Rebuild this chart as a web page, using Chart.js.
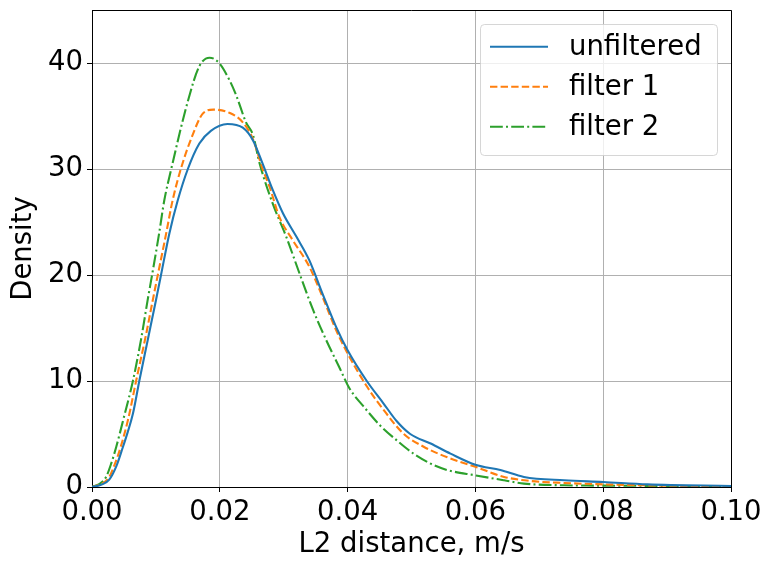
<!DOCTYPE html>
<html><head><meta charset="utf-8">
<script src="https://cdn.jsdelivr.net/npm/chart.js@4/dist/chart.umd.min.js"></script>
<style>html,body{margin:0;padding:0;background:#fff}#wrap{width:764px;height:561px}</style>
</head><body><div id="wrap"><canvas id="c" width="764" height="561"></canvas></div>
<script>
const seriesNames = ['unfiltered', 'filter 1', 'filter 2'];
const seriesColors = ['#1f77b4', '#ff7f0e', '#2ca02c'];

const unfilteredX = [0, 0.0015, 0.0027, 0.0038, 0.0048, 0.0056, 0.0064, 0.0074, 0.0087, 0.0100, 0.0108, 0.0121, 0.0134, 0.0150, 0.0168, 0.0186, 0.0212, 0.0236, 0.0252, 0.0267, 0.0283, 0.0299, 0.0320, 0.0340, 0.0361, 0.0382, 0.0400, 0.0430, 0.0456, 0.0477, 0.0498, 0.0530, 0.0561, 0.0600, 0.0639, 0.0676, 0.0739, 0.0800, 0.0869, 0.1000];
const unfilteredY = [0, 0.22, 0.7, 1.95, 3.7, 5.2, 6.9, 10.0, 13.8, 17.6, 20.0, 23.9, 27.0, 30.0, 32.4, 33.6, 34.25, 33.9, 32.7, 30.5, 28.0, 25.8, 23.6, 21.4, 18.2, 15.1, 12.9, 10.0, 7.9, 6.2, 5.0, 4.1, 3.15, 2.1, 1.6, 0.95, 0.63, 0.47, 0.25, 0.1];

const filter1X = [0, 0.0015, 0.0027, 0.0036, 0.0045, 0.0057, 0.0069, 0.0085, 0.0095, 0.0103, 0.0116, 0.0126, 0.0139, 0.0158, 0.0173, 0.0190, 0.0215, 0.0236, 0.0252, 0.0267, 0.0278, 0.0293, 0.0314, 0.0340, 0.0361, 0.0382, 0.0400, 0.0430, 0.0456, 0.0488, 0.0519, 0.0556, 0.0600, 0.0645, 0.0686, 0.0739, 0.0800, 0.0895, 0.1000];
const filter1Y = [0, 0.3, 0.95, 2.2, 3.8, 6.5, 10.0, 14.5, 17.6, 20.0, 23.9, 27.0, 30.0, 33.3, 35.2, 35.6, 35.3, 34.4, 32.8, 30.0, 28.3, 25.5, 23.3, 20.8, 17.9, 14.8, 12.6, 9.5, 7.3, 5.0, 3.8, 2.8, 1.9, 0.95, 0.57, 0.38, 0.25, 0.13, 0.06];

const filter2X = [0, 0.0012, 0.0022, 0.0030, 0.0038, 0.0050, 0.0064, 0.0077, 0.0087, 0.0094, 0.0105, 0.0113, 0.0124, 0.0150, 0.0168, 0.0184, 0.0199, 0.0215, 0.0226, 0.0241, 0.0252, 0.0262, 0.0283, 0.0304, 0.0325, 0.0346, 0.0367, 0.0387, 0.0403, 0.0425, 0.0451, 0.0477, 0.0503, 0.0530, 0.0556, 0.0600, 0.0645, 0.0676, 0.0739, 0.0800, 0.0895, 0.1000];
const filter2Y = [0, 0.3, 0.94, 2.2, 3.8, 6.6, 10.0, 14.0, 17.6, 20.0, 23.9, 27.0, 30.0, 36.4, 39.7, 40.5, 40.0, 38.4, 36.9, 34.4, 33.2, 30.6, 26.7, 23.6, 20.1, 16.7, 13.8, 11.3, 9.3, 7.6, 5.8, 4.4, 3.15, 2.2, 1.6, 1.1, 0.63, 0.32, 0.16, 0.13, 0.1, 0.06];

const xTicks = [0, 0.02, 0.04, 0.06, 0.08, 0.10];
const yTicks = [0, 10, 20, 30, 40];
const xTitle = 'L2 distance, m/s';
const yTitle = 'Density';

const FONT = 'DejaVu Sans';
const FS = 27.5;
const toPts = (xs, ys) => xs.map((x, i) => ({x: x, y: ys[i]}));
const dashes = [[], [7.4, 3.2], [12.8, 3.2, 2, 3.2]];
const seriesData = [toPts(unfilteredX, unfilteredY), toPts(filter1X, filter1Y), toPts(filter2X, filter2Y)];

const framePlugin = {
  id: 'frame',
  afterDatasetsDraw(chart) {
    const ctx = chart.ctx, a = chart.chartArea;
    ctx.save();
    ctx.strokeStyle = '#000';
    ctx.lineWidth = 1;
    ctx.beginPath();
    ctx.moveTo(Math.round(a.left), Math.round(a.top) + 0.5);
    ctx.lineTo(Math.round(a.right) + 0.5, Math.round(a.top) + 0.5);
    ctx.lineTo(Math.round(a.right) + 0.5, Math.round(a.bottom));
    ctx.stroke();
    ctx.restore();
  }
};

const legendPlugin = {
  id: 'mplLegend',
  afterDraw(chart) {
    const ctx = chart.ctx, a = chart.chartArea;
    const bw = 237, bh = 131;
    const bx = a.right - 251, by = a.top + 14;
    ctx.save();
    ctx.beginPath();
    if (ctx.roundRect) ctx.roundRect(bx + 0.5, by + 0.5, bw, bh, 4); else ctx.rect(bx + 0.5, by + 0.5, bw, bh);
    ctx.fillStyle = 'rgba(255,255,255,0.8)';
    ctx.fill();
    ctx.strokeStyle = 'rgba(204,204,204,0.8)';
    ctx.lineWidth = 1;
    ctx.stroke();
    chart.data.datasets.forEach((ds, i) => {
      const y = by + 22.7 + i * 40;
      ctx.beginPath();
      ctx.setLineDash(ds.borderDash || []);
      ctx.strokeStyle = ds.borderColor;
      ctx.lineWidth = ds.borderWidth;
      ctx.moveTo(bx + 10, y);
      ctx.lineTo(bx + 68, y);
      ctx.stroke();
      ctx.setLineDash([]);
      ctx.fillStyle = '#000';
      ctx.font = FS + 'px "' + FONT + '"';
      ctx.textBaseline = 'alphabetic';
      ctx.textAlign = 'left';
      ctx.fillText(ds.label, bx + 89, y + 7.8);
    });
    ctx.restore();
  }
};

new Chart(document.getElementById('c'), {
  type: 'line',
  data: {
    datasets: seriesNames.map((name, i) => ({
      label: name,
      data: seriesData[i],
      borderColor: seriesColors[i],
      backgroundColor: seriesColors[i],
      borderWidth: 2.1,
      borderDash: dashes[i],
      pointRadius: 0,
      fill: false,
      cubicInterpolationMode: 'monotone'
    }))
  },
  options: {
    responsive: false,
    devicePixelRatio: 1,
    animation: false,
    events: [],
    layout: {padding: {top: 10, right: 33, left: 0, bottom: 0}},
    plugins: {legend: {display: false}, tooltip: {enabled: false}},
    scales: {
      x: {
        type: 'linear', min: 0, max: 0.1,
        afterBuildTicks(s) { s.ticks = xTicks.map(v => ({value: v})); },
        afterFit(s) { s.height = 74; s.paddingLeft = 0; s.paddingRight = 0; },
        ticks: {
          color: '#000', font: {family: FONT, size: FS}, padding: 4, maxRotation: 0, autoSkip: false,
          callback: v => Number(v).toFixed(2)
        },
        grid: {color: '#b0b0b0', lineWidth: 1, tickColor: '#000', tickLength: 5},
        border: {color: '#000', width: 1},
        title: {display: true, text: xTitle, color: '#000', font: {family: FONT, size: FS, lineHeight: 1}, padding: {top: 0, bottom: 2}}
      },
      y: {
        type: 'linear', min: 0, max: 45,
        afterBuildTicks(s) { s.ticks = yTicks.map(v => ({value: v})); },
        afterFit(s) { s.width = 92; s.paddingTop = 0; s.paddingBottom = 0; },
        ticks: {color: '#000', font: {family: FONT, size: FS}, padding: 4, autoSkip: false, callback: v => String(v)},
        grid: {color: '#b0b0b0', lineWidth: 1, tickColor: '#000', tickLength: 5},
        border: {color: '#000', width: 1},
        title: {display: true, text: yTitle, color: '#000', font: {family: FONT, size: FS, lineHeight: 1}, padding: {top: 10.5, bottom: 0}}
      }
    }
  },
  plugins: [framePlugin, legendPlugin]
});
</script>
</body></html>
